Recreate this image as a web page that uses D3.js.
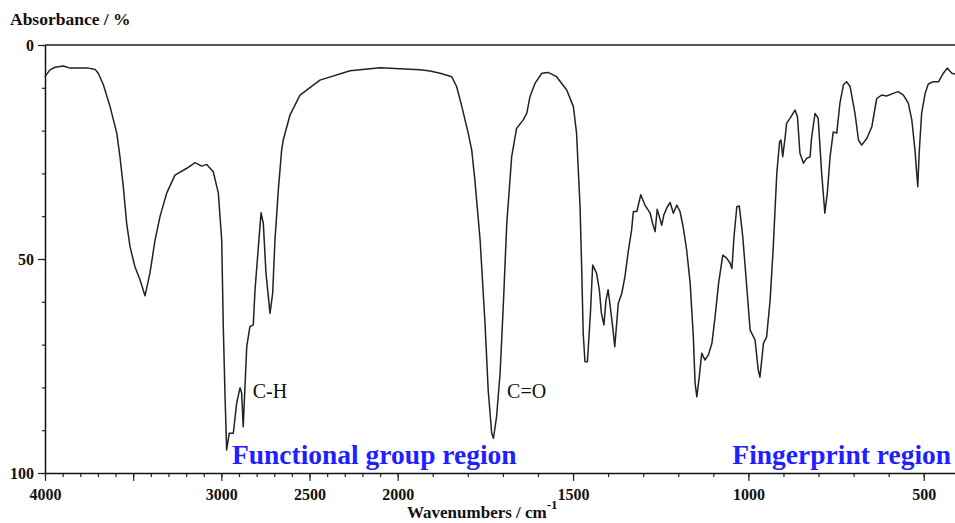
<!DOCTYPE html>
<html>
<head>
<meta charset="utf-8">
<script src="https://cdn.jsdelivr.net/npm/d3@7"></script>
<style>
  body { margin: 0; background: #fff; }
  text { font-family: "Liberation Serif", "Times New Roman", serif; }
</style>
</head>
<body>
<div id="chart"></div>
<script>
// IR spectrum: wavenumber (cm-1) and absorbance (%)
const wavenumbers = [
  4000, 3972, 3943, 3896, 3858, 3754, 3716, 3698, 3669, 3631, 3593, 3575, 3556, 3537, 3518,
  3490, 3461, 3433, 3405, 3376, 3348, 3310, 3263, 3196, 3149, 3111, 3083, 3046, 3017, 2998,
  2989, 2979, 2970, 2955, 2932, 2913, 2894, 2885, 2876, 2866, 2856, 2838, 2819, 2809, 2790,
  2775, 2762, 2747, 2724, 2709, 2696, 2677, 2658, 2649, 2611, 2554, 2441, 2270, 2100, 1936,
  1908, 1879, 1846, 1832, 1817, 1799, 1789, 1780, 1765, 1751, 1742, 1732, 1727, 1718, 1708,
  1699, 1689, 1675, 1661, 1642, 1632, 1623, 1608, 1589, 1571, 1547, 1518, 1499, 1490, 1480,
  1475, 1471, 1466, 1459, 1454, 1450, 1444, 1433, 1425, 1419, 1412, 1406, 1400, 1395, 1387,
  1381, 1371, 1361, 1352, 1342, 1333, 1328, 1318, 1307, 1295, 1280, 1273, 1266, 1260, 1254,
  1247, 1241, 1231, 1223, 1214, 1204, 1195, 1186, 1176, 1166, 1157, 1152, 1147, 1140, 1133,
  1124, 1114, 1104, 1095, 1085, 1073, 1062, 1052, 1047, 1041, 1033, 1026, 1016, 1007, 995,
  981, 972, 967, 957, 948, 938, 929, 919, 911, 907, 902, 895, 891, 881, 867,
  860, 853, 843, 834, 824, 820, 810, 801, 791, 782, 775, 767, 758, 748, 739,
  729, 720, 710, 696, 686, 677, 662, 648, 634, 620, 606, 587, 573, 558, 544,
  534, 525, 520, 517, 513, 506, 496, 487, 473, 458, 444, 433, 420, 411
];
const absorbance = [
  7.4, 5.8, 5.2, 4.9, 5.4, 5.4, 5.7, 6.6, 9.3, 14.4, 20.6, 26.1, 33.1, 41.6, 47.1,
  51.8, 54.9, 58.6, 53.3, 45.6, 40.1, 34.6, 30.4, 28.8, 27.5, 28.3, 27.9, 29.6, 34.6, 45.6,
  65.8, 82.2, 94.6, 90.7, 90.7, 83.6, 80.1, 81.3, 89.2, 79.8, 70.5, 65.8, 65.4, 57.2, 47.1,
  39.2, 41.7, 53.3, 62.7, 58.0, 45.6, 33.9, 24.5, 22.2, 16.4, 11.7, 8.2, 6.0, 5.3, 5.8,
  6.1, 6.6, 7.4, 9.7, 14.4, 20.6, 24.5, 31.5, 45.6, 65.0, 80.6, 90.7, 91.9, 86.8, 76.7,
  61.1, 41.7, 26.1, 19.5, 17.5, 16.0, 12.1, 8.9, 6.6, 6.4, 7.4, 10.5, 14.4, 20.6, 37.8,
  53.3, 67.4, 74.0, 74.0, 67.4, 61.9, 51.4, 53.3, 57.2, 62.7, 65.4, 59.6, 57.2, 60.4, 65.8,
  70.5, 60.4, 58.0, 54.1, 47.9, 43.2, 38.9, 38.9, 35.0, 37.4, 39.3, 41.7, 43.6, 38.4, 40.1,
  42.1, 39.7, 37.8, 36.8, 39.3, 37.4, 38.9, 42.5, 47.9, 55.7, 68.2, 79.0, 82.2, 77.5, 72.0,
  73.6, 72.4, 69.7, 63.5, 55.7, 49.1, 49.8, 51.0, 52.2, 44.8, 37.8, 37.6, 44.8, 54.1, 66.6,
  68.9, 75.9, 77.6, 69.7, 68.2, 59.6, 47.1, 30.0, 22.6, 22.2, 26.1, 21.4, 18.3, 17.1, 15.2,
  16.8, 25.3, 27.6, 26.5, 26.1, 21.8, 16.0, 17.1, 30.0, 39.3, 34.6, 26.1, 20.3, 20.6, 13.6,
  9.3, 8.6, 9.7, 16.0, 22.2, 23.4, 21.8, 19.1, 12.5, 11.7, 11.9, 11.3, 10.9, 11.7, 13.6,
  17.5, 24.5, 30.0, 33.1, 25.3, 16.0, 11.3, 9.1, 8.6, 8.6, 6.6, 5.4, 6.6, 6.8
];

// axis ticks
const xMajorTicks = [4000, 3500, 3000, 2500, 2000, 1500, 1000, 500];
const xLabelled = [4000, 3000, 2500, 2000, 1500, 1000, 500];
const xMinorTicks = d3.range(4000, 400, -100);
const yMajorTicks = [0, 50, 100];
const yMinorTicks = d3.range(0, 101, 10);

// annotations
const peakLabels = [
  { text: "C-H", wn: 2822, ab: 82.5 },
  { text: "C=O", wn: 1688, ab: 82.5 }
];
const regionLabels = [
  { text: "Functional group region", wn: 2940, anchor: "start" },
  { text: "Fingerprint region", wn: 422, anchor: "end" }
];

const width = 955, height = 523;
const plotLeft = 45, plotTop = 45, plotBottom = 473;

const svg = d3.select("#chart").append("svg")
  .attr("width", width)
  .attr("height", height);

// the x axis doubles its scale below 2000 cm-1
const x = d3.scaleLinear()
  .domain([4000, 2000, 400])
  .range([plotLeft, 397.7, 958.8]);

const y = d3.scaleLinear()
  .domain([0, 100])
  .range([plotTop, plotBottom]);

// top frame line
svg.append("line")
  .attr("x1", plotLeft).attr("x2", width)
  .attr("y1", plotTop).attr("y2", plotTop)
  .attr("stroke", "#555")
  .attr("stroke-width", 2);

// x axis, minor then major ticks
svg.append("g")
  .attr("transform", `translate(0,${plotBottom})`)
  .call(d3.axisBottom(x).tickValues(xMinorTicks).tickSize(4).tickSizeOuter(0).tickFormat(""))
  .call(g => g.select(".domain").remove());

svg.append("g")
  .attr("transform", `translate(0,${plotBottom})`)
  .call(d3.axisBottom(x)
    .tickValues(xMajorTicks)
    .tickSize(8)
    .tickSizeOuter(0)
    .tickPadding(8)
    .tickFormat(d => xLabelled.includes(d) ? d : ""));

// y axis
svg.append("g")
  .attr("transform", `translate(${plotLeft},0)`)
  .call(d3.axisLeft(y).tickValues(yMinorTicks).tickSize(3).tickSizeOuter(0).tickFormat(""))
  .call(g => g.select(".domain").remove());

svg.append("g")
  .attr("transform", `translate(${plotLeft},0)`)
  .call(d3.axisLeft(y).tickValues(yMajorTicks).tickSize(7).tickSizeOuter(0).tickPadding(4));

svg.selectAll(".domain").attr("stroke", "#111").attr("stroke-width", 1.5);
svg.selectAll(".tick line").attr("stroke", "#222").attr("stroke-width", 1.2);
svg.selectAll(".tick text")
  .attr("font-family", "Liberation Serif, Times New Roman, serif")
  .attr("font-weight", "bold")
  .attr("font-size", 16)
  .attr("fill", "#111");

// spectrum
const points = wavenumbers.map((w, i) => [w, absorbance[i]]);
const line = d3.line()
  .x(d => x(d[0]))
  .y(d => y(d[1]));

svg.append("path")
  .datum(points)
  .attr("d", line)
  .attr("fill", "none")
  .attr("stroke", "#222")
  .attr("stroke-width", 1.5)
  .attr("stroke-linejoin", "round");

// titles
svg.append("text")
  .attr("x", 10)
  .attr("y", 25)
  .attr("font-size", 17.5)
  .attr("font-weight", "bold")
  .attr("fill", "#111")
  .text("Absorbance / %");

const xTitle = svg.append("text")
  .attr("x", 407)
  .attr("y", 518)
  .attr("font-size", 17)
  .attr("font-weight", "bold")
  .attr("fill", "#111")
  .text("Wavenumbers / cm");
xTitle.append("tspan")
  .attr("dy", -9)
  .attr("font-size", 13)
  .text("-1");

// peak labels
svg.selectAll(".peak")
  .data(peakLabels)
  .join("text")
  .attr("class", "peak")
  .attr("x", d => x(d.wn))
  .attr("y", d => y(d.ab))
  .attr("font-size", 20)
  .attr("fill", "#111")
  .text(d => d.text);

// region labels
svg.selectAll(".region")
  .data(regionLabels)
  .join("text")
  .attr("class", "region")
  .attr("x", d => x(d.wn))
  .attr("y", 464)
  .attr("text-anchor", d => d.anchor)
  .attr("font-size", 27.5)
  .attr("font-weight", "bold")
  .attr("fill", "#1f1fff")
  .text(d => d.text);
</script>
</body>
</html>
